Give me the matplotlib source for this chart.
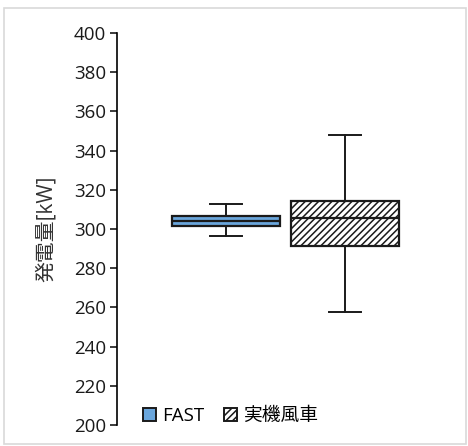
import matplotlib
matplotlib.use("Agg")
import matplotlib.pyplot as plt
from matplotlib.patches import Patch, Rectangle

plt.rcParams['font.family'] = ['Open Sans', 'Noto Sans CJK JP', 'DejaVu Sans']
plt.rcParams['hatch.linewidth'] = 1.1

# Five-number summaries of generated power [kW]
labels = ["FAST", "実機風車"]
whislo = [296.3, 257.8]
q1 = [301.7, 291.5]
med = [304.2, 305.5]
q3 = [306.8, 314.3]
whishi = [312.9, 347.8]

yticks = list(range(200, 401, 20))

stats = [dict(label=labels[i], whislo=whislo[i], q1=q1[i], med=med[i],
              q3=q3[i], whishi=whishi[i], fliers=[]) for i in range(2)]

fig = plt.figure(figsize=(4.68, 4.46), dpi=100)
fig.patches.append(Rectangle((0.008, 0.004), 0.988, 0.978, transform=fig.transFigure,
                             fill=False, edgecolor='#d9d9d9', linewidth=1.2))
ax = fig.add_axes([117 / 468, 21 / 446, 335 / 468, 392 / 446])

bp = ax.bxp(stats, positions=[1, 2], widths=0.91, patch_artist=True,
            showfliers=False,
            boxprops=dict(linewidth=1.6, edgecolor='#1a1a1a'),
            medianprops=dict(color='#1a1a1a', linewidth=1.6),
            whiskerprops=dict(color='#1a1a1a', linewidth=1.4),
            capprops=dict(color='#1a1a1a', linewidth=1.4),
            capwidths=[0.27, 0.27])
bp['boxes'][0].set_facecolor('#6aa6dc')
bp['boxes'][1].set_facecolor('white')
bp['boxes'][1].set_hatch('/////')

ax.set_xlim(0.085, 2.9)
ax.set_ylim(200, 400)
ax.set_yticks(yticks)
ax.tick_params(axis='y', labelsize=13.5, length=5, width=1.2, pad=3,
               direction='out', colors='#1a1a1a')
ax.tick_params(axis='x', bottom=False, labelbottom=False)
for s in ['top', 'right', 'bottom']:
    ax.spines[s].set_visible(False)
ax.spines['left'].set_linewidth(1.2)
ax.set_ylabel('発電量[kW]', fontsize=15, color='#333333', labelpad=12)

handles = [Patch(facecolor='#6aa6dc', edgecolor='#1a1a1a', linewidth=1.4),
           Patch(facecolor='white', edgecolor='#1a1a1a', hatch='/////', linewidth=1.4)]
ax.legend(handles, labels, loc='lower left', bbox_to_anchor=(0.055, -0.02),
          ncol=2, frameon=False, fontsize=13.5, handlelength=0.7, handleheight=0.7,
          handletextpad=0.35, columnspacing=1.0, borderaxespad=0)

fig.savefig('out.png', dpi=100)
